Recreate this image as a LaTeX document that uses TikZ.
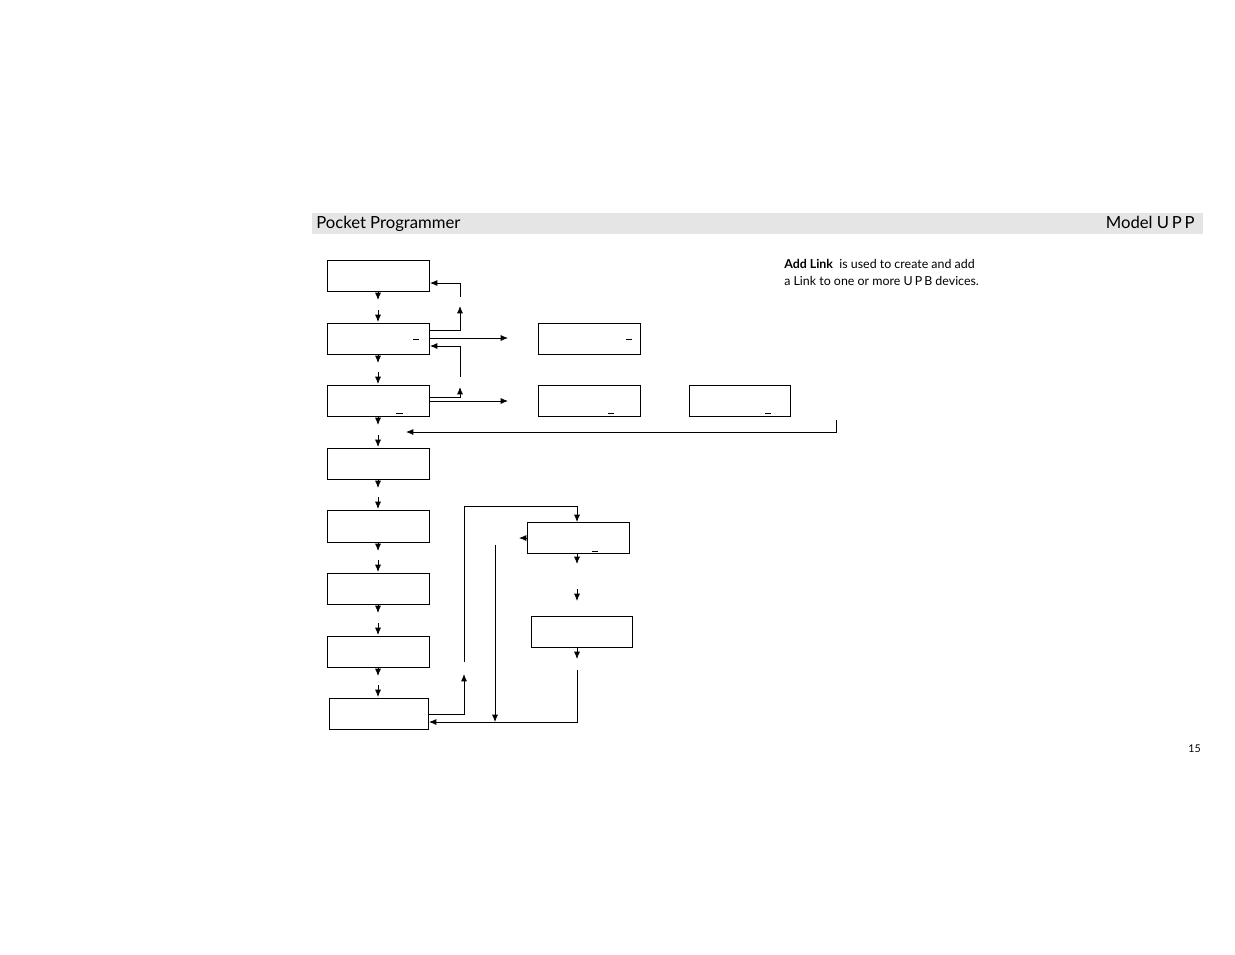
\documentclass[tikz,border=0pt]{standalone}
\usepackage{fontspec}
\usetikzlibrary{arrows.meta}
\setmainfont{Lato}
\begin{document}
\begin{tikzpicture}[x=0.75pt,y=-0.75pt,
  box/.style={draw,line width=0.6pt},
  ln/.style={line width=0.6pt},
  ar/.style={line width=0.6pt,-{Latex[length=5.5pt,width=4.5pt]}},
  us/.style={line width=0.7pt}]
\useasboundingbox (0,0) rectangle (1235,954);
\fill[black!10] (312,213) rectangle (1203,234);
\node[anchor=base west,inner sep=0,font=\fontsize{12.5}{14}\selectfont] (h1) at (316,228) {Pocket Programmer};
\node[anchor=base east,inner sep=0,font=\fontsize{12.5}{14}\selectfont] (h2) at (1195,228) {Model U\,P\,P};
\node[anchor=north west,inner sep=0,align=left,font=\fontsize{9.3}{12.8}\selectfont] (desc) at (784,259) {\textbf{Add Link}\ \ is used to create and add\\a Link to one or more U\,P\,B devices.};
\node[anchor=east,inner sep=0,font=\fontsize{8}{10}\selectfont] (pg) at (1201,749) {15};
% left column
\foreach \n/\a/\b in {b1/260/291,b2/323/354,b3/385/416,b4/448/479,b5/510/542,b6/573/604,b7/636/667}
  \draw[box] (327,\a) rectangle (429,\b) coordinate (\n);
\draw[box] (329,698) rectangle (428,729);
\foreach \y in {291,354,416,479,542,604,667}
  \draw[ar] (378,\y+1) -- (378,\y+9);
\foreach \y in {323,385,448,510,573,636,698}
  \draw[ar] (378,\y-13) -- (378,\y-1);
% right boxes
\draw[box] (538,323) rectangle (640,354);
\draw[box] (538,385) rectangle (640,416);
\draw[box] (689,385) rectangle (790,416);
\draw[box] (527,522) rectangle (629,553);
\draw[box] (531,616) rectangle (632,647);
% underscores
\draw[us] (413,339)--(419,339);
\draw[us] (626,339)--(632,339);
\draw[us] (396,413)--(403,413);
\draw[us] (608,413)--(614,413);
\draw[us] (765,413)--(771,413);
\draw[us] (592,551)--(598,551);
% connectors top
\draw[ar] (429,330) -- (460,330) -- (460,306);
\draw[ar] (460,297) -- (460,283) -- (430,283);
\draw[ar] (429,338) -- (508,338);
\draw[ar] (429,397) -- (460,397) -- (460,387);
\draw[ar] (460,377) -- (460,346) -- (430,346);
\draw[ar] (429,401) -- (508,401);
\draw[ar] (836,420) -- (836,432) -- (406,432);
% bottom
\draw[ar] (429,714) -- (464,714) -- (464,674);
\draw[ar] (464,662) -- (464,506) -- (577,506) -- (577,522);
\draw[ar] (527,538) -- (519,538);
\draw[ar] (495,545) -- (495,722);
\draw[ar] (577,554) -- (577,564);
\draw[ar] (577,589) -- (577,601);
\draw[ar] (577,648) -- (577,659);
\draw[ar] (577,670) -- (577,722) -- (429,722);
\end{tikzpicture}
\end{document}
